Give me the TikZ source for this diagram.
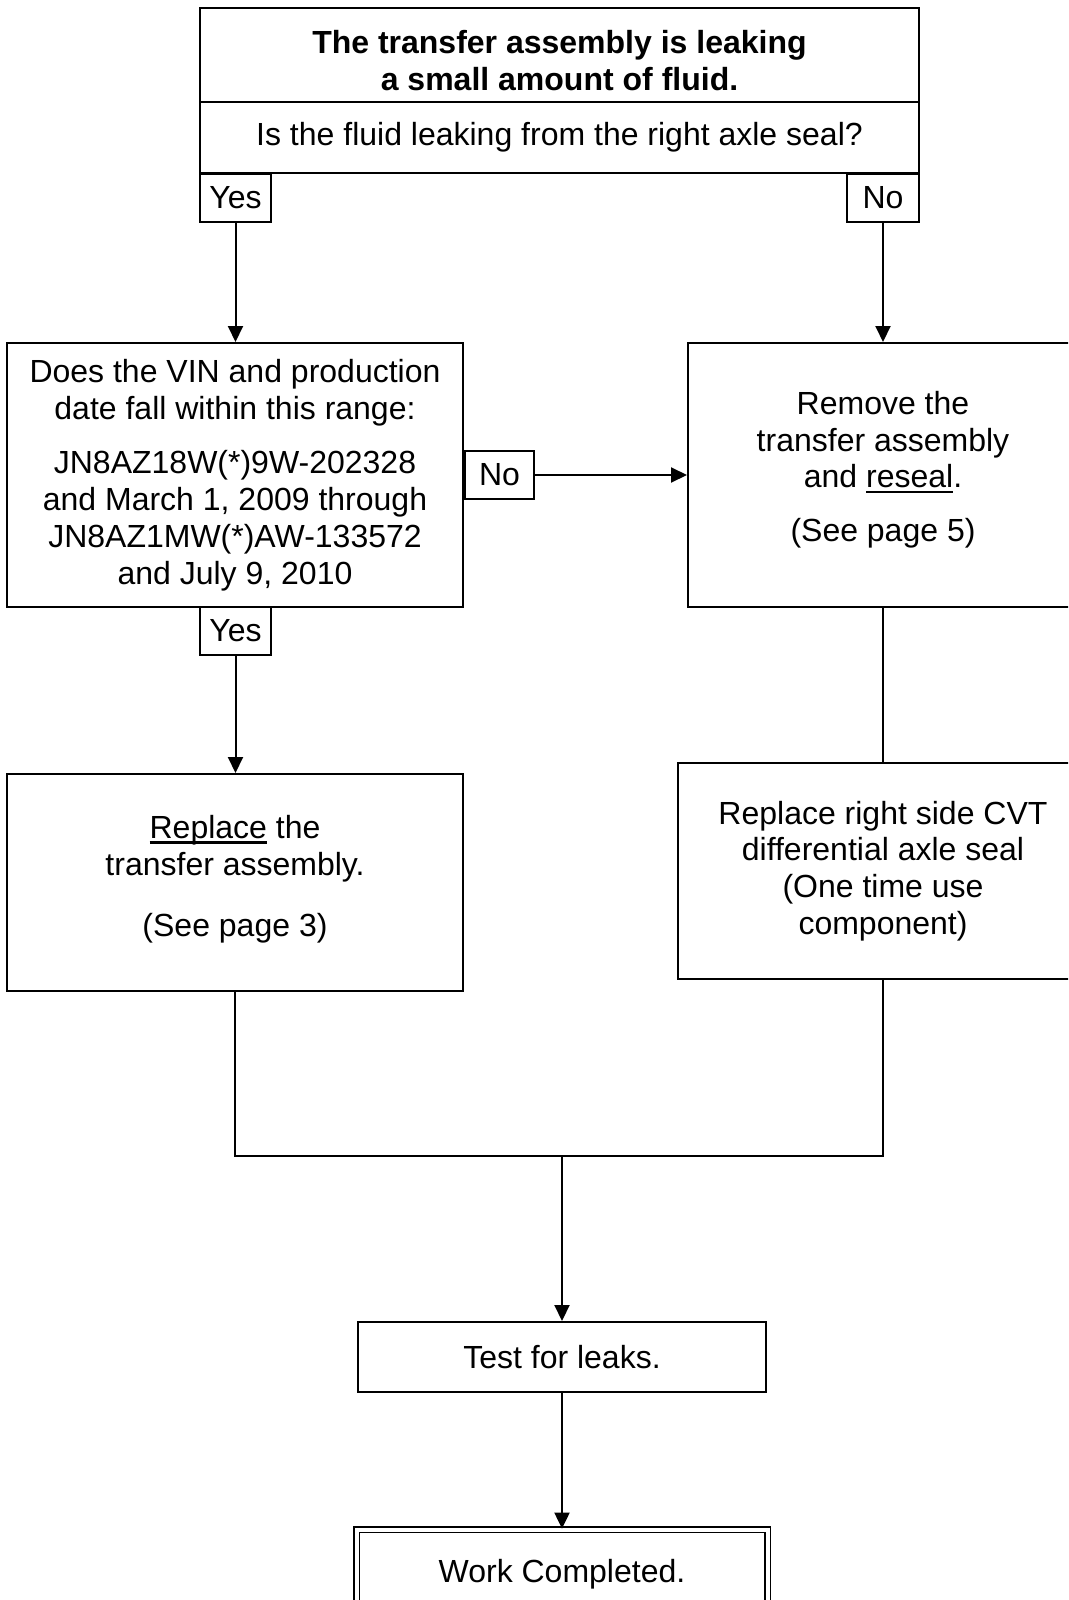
\documentclass[tikz,border=0pt]{standalone}
\usepackage{fontspec}
\setmainfont{Liberation Sans}
\usetikzlibrary{arrows.meta}

% thick underline, as in the printed chart
\newsavebox{\undlbox}
\newcommand{\undl}[1]{\sbox{\undlbox}{#1}\rlap{\vrule width \wd\undlbox height -3pt depth 5.5pt}\usebox{\undlbox}}

\begin{document}
\begin{tikzpicture}[
            x = 1pt, y = -1pt, % pixel grid, y grows downward
            > = {Triangle[length=16pt, width=15pt]}, % arrow head style
            line width = 2pt % line style
        ]

        \tikzstyle{every node}=[
            font = \fontsize{32}{36.7}\selectfont
        ]
        \tikzstyle{box}=[
            draw = black,
            line width = 2pt,
            fill = white,
            rectangle,
            align = center,
            inner sep = 0pt
        ]
        \tikzstyle{answer}=[box, minimum height = 48pt]
        \tikzstyle{final}=[box, double, double distance = 4pt, line width = 1.8pt]

        \useasboundingbox (0,0) rectangle (1068,1600);
        \clip (0,0) rectangle (1068,1600);

        \node[box, minimum width=719pt, minimum height=94pt,
              font=\fontsize{32}{36.7}\selectfont\bfseries] (title) at (559.5,55)
            {\rule{0pt}{34pt}The transfer assembly is leaking\\a small amount of fluid.};
        \node[box, minimum width=719pt, minimum height=71pt] (question) at (559.5,137.5)
            {Is the fluid leaking from the right axle seal?};
        \node[answer, minimum width=71pt] (yes1) at (235.5,197.5) {Yes};
        \node[answer, minimum width=72pt] (no1) at (883,197.5) {No};

        \node[box, minimum width=456pt, minimum height=264pt] (vin) at (235,475)
            {Does the VIN and production\\date fall within this range:\\[18pt]
             JN8AZ18W(*)9W-202328\\and March 1, 2009 through\\
             JN8AZ1MW(*)AW-133572\\and July 9, 2010};
        \node[answer, minimum width=69pt] (no2) at (499.5,475) {No};
        \node[box, minimum width=390pt, minimum height=264pt] (reseal) at (883,475)
            {Remove the\\transfer assembly\\and \undl{reseal}.\\[17pt](See page 5)\rule[-17pt]{0pt}{0pt}};
        \node[answer, minimum width=71pt] (yes2) at (235.5,631) {Yes};

        \node[box, minimum width=456pt, minimum height=217pt] (replace) at (235,882.5)
            {\undl{Replace} the\\transfer assembly.\\[25pt](See page 3)\rule[-13pt]{0pt}{0pt}};
        \node[box, minimum width=410pt, minimum height=216pt] (seal) at (883,871)
            {Replace right side CVT\\differential axle seal\\(One time use\\component)};

        \coordinate (join) at (562,1156);
        \node[box, minimum width=408pt, minimum height=70pt] (test) at (562,1357) {Test for leaks.};
        \node[final, minimum width=411pt, minimum height=89pt] (work) at (562,1574) {Work Completed.};

        \draw[->] (yes1.south) -- (yes1.south |- vin.north);
        \draw[->] (no1.south) -- (no1.south |- reseal.north);
        \draw[->] (no2.east) -- (no2.east -| reseal.west);
        \draw[->] (yes2.south) -- (yes2.south |- replace.north);
        \draw (reseal.south) -- (seal.north);
        \draw (replace.south) |- (join);
        \draw (seal.south) |- (join);
        \draw[->] (join) -- (test.north);
        \draw[->] (test.south) -- (work.north);

  \end{tikzpicture}
\end{document}
